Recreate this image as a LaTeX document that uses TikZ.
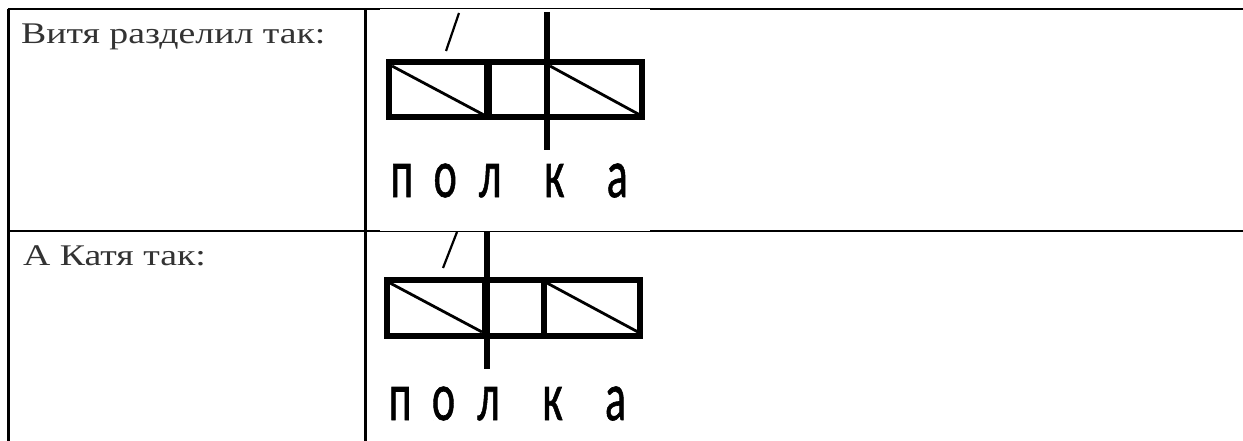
\documentclass[tikz,border=0pt]{standalone}
\usepackage{fontspec}
\usepackage{graphicx}
\setmainfont{Liberation Serif}
\newfontfamily\shelffont[FakeBold=1]{Carlito}
\newcommand\shelfletter[1]{\makebox[0pt][c]{\scalebox{0.64}[1]{#1}}}
\newcommand\widetext[1]{\scalebox{1.26}[1]{#1}}
\begin{document}
\begin{tikzpicture}[x=1pt,y=-1pt,
  tbl/.style={line width=2.5pt},
  tblthin/.style={line width=1pt},
  shelfbox/.style={line width=6pt},
  cutline/.style={line width=6pt},
  thickcut/.style={line width=8pt},
  diag/.style={line width=2.8pt},
  slashline/.style={line width=2.2pt},
  lbl/.style={font=\fontsize{30}{34}\selectfont, text=black!80, inner sep=0pt, anchor=base west},
  word/.style={font=\shelffont\fontsize{69}{80}\selectfont, inner sep=0pt, anchor=base west}]
\useasboundingbox (0,0) rectangle (1243,441);
\fill[white] (0,0) rectangle (1243,441);

% table grid
\draw[tbl] (8.7,441) -- (8.7,9);
\draw[tbl] (365.5,441) -- (365.5,9);
\draw[tbl] (7.5,9) -- (380,9);
\draw[tblthin] (380,9) -- (650,9);
\draw[tbl] (650,9) -- (1243,9);
\draw[tbl] (7.5,231) -- (380,231);
\draw[tblthin] (380,231) -- (650,231);
\draw[tbl] (650,231) -- (1243,231);

% labels
\node[lbl] (t1) at (21,43.5) {\widetext{Витя разделил так:}};
\node[lbl] (t2) at (23,265.5) {\widetext{А Катя так:}};

% diagram 1
\draw[shelfbox] (389,62.5) rectangle (642,117.5);
\draw[thickcut] (488,62.5) -- (488,117.5);
\draw[cutline] (547,12) -- (547,150);
\draw[diag] (392,66) -- (484,115);
\draw[diag] (550,66) -- (640,115);
\draw[slashline] (446,51) -- (459,13);
\node[word] (w1) at (401.7,197) {\shelfletter{п}\hspace{43.3pt}\shelfletter{о}\hspace{45pt}\shelfletter{л}\hspace{64pt}\shelfletter{к}\hspace{63pt}\shelfletter{а}};

% diagram 2
\draw[shelfbox] (387,280) rectangle (640,336);
\draw[thickcut] (486,280) -- (486,336);
\draw[cutline] (487,232) -- (487,369);
\draw[cutline] (544,280) -- (544,336);
\draw[diag] (390,283) -- (482,332);
\draw[diag] (547,283) -- (638,332);
\draw[slashline] (443,268) -- (457,232);
\node[word] (w2) at (400,420) {\shelfletter{п}\hspace{43.3pt}\shelfletter{о}\hspace{45pt}\shelfletter{л}\hspace{64pt}\shelfletter{к}\hspace{63pt}\shelfletter{а}};
\end{tikzpicture}
\end{document}
